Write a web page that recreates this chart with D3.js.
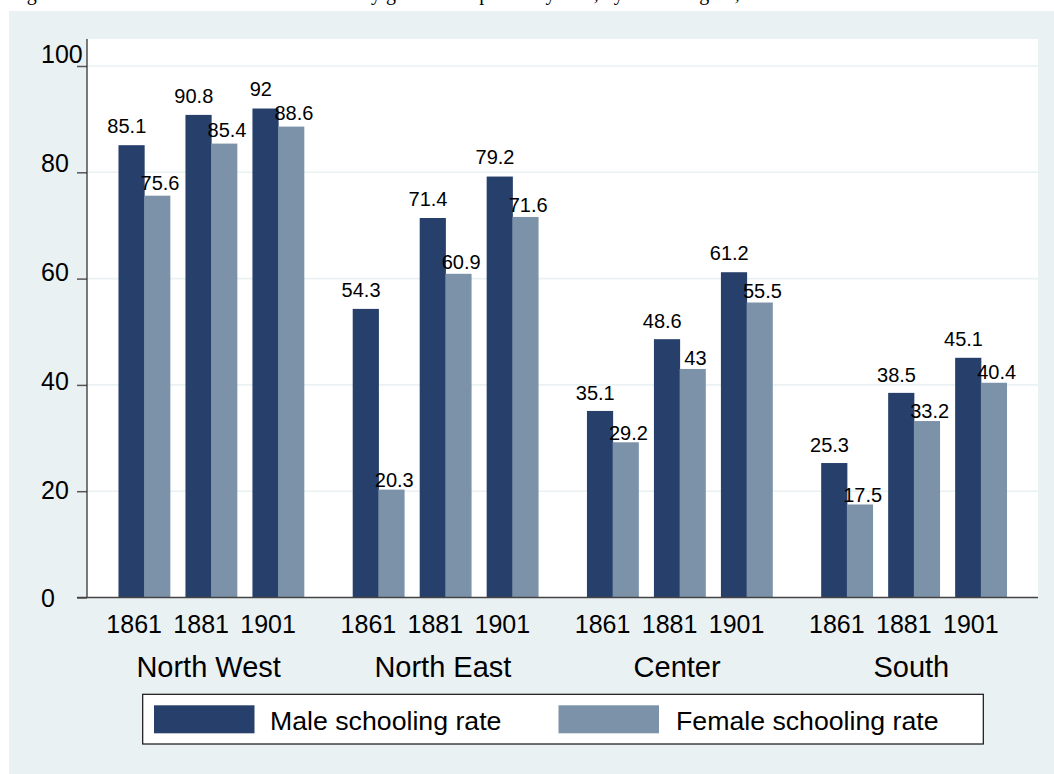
<!DOCTYPE html>
<html>
<head>
<meta charset="utf-8">
<script src="https://cdn.jsdelivr.net/npm/d3@7"></script>
<style>
  html, body { margin: 0; padding: 0; background: #ffffff; }
  svg { display: block; }
  text { font-family: Arial, "Liberation Sans", sans-serif; fill: #000; }
</style>
</head>
<body>
<svg id="chart" width="1054" height="774"></svg>
<script>
// ---- data ----
const titleText = "Figure 1. Enrolment rates in Italian schools by gender and period by area, by macro region, 1861\u20131901";
const regions = ["North West", "North East", "Center", "South"];
const years = ["1861", "1881", "1901"];
const maleNorthWest = [85.1, 90.8, 92];
const maleNorthEast = [54.3, 71.4, 79.2];
const maleCenter = [35.1, 48.6, 61.2];
const maleSouth = [25.3, 38.5, 45.1];
const femaleNorthWest = [75.6, 85.4, 88.6];
const femaleNorthEast = [20.3, 60.9, 71.6];
const femaleCenter = [29.2, 43, 55.5];
const femaleSouth = [17.5, 33.2, 40.4];
const yTicks = [0, 20, 40, 60, 80, 100];
const seriesNames = ["Male schooling rate", "Female schooling rate"];

// ---- build table ----
const maleByRegion = [maleNorthWest, maleNorthEast, maleCenter, maleSouth];
const femaleByRegion = [femaleNorthWest, femaleNorthEast, femaleCenter, femaleSouth];
const rows = [];
regions.forEach((r, i) => {
  years.forEach((y, j) => {
    rows.push({ region: r, year: y, series: 0, value: maleByRegion[i][j] });
    rows.push({ region: r, year: y, series: 1, value: femaleByRegion[i][j] });
  });
});

const colors = ["#273f6b", "#7b92a9"];
const bgColor = "#eaf1f3";

const svg = d3.select("#chart");

// outer background
svg.append("rect").attr("x", 9).attr("y", 11).attr("width", 1054 - 9).attr("height", 774 - 11)
  .attr("fill", bgColor);

// title, cropped at the top edge as in the reference (only descenders visible)
svg.append("text").attr("x", 10).attr("y", 0)
  .style("font-family", "'Liberation Serif', 'Times New Roman', serif")
  .style("font-size", "20px")
  .text(titleText);

const plotLeft = 87, plotRight = 1038, plotTop = 39;

const y = d3.scaleLinear().domain([0, 100]).range([597.5, 66]);

// plot region
svg.append("rect").attr("x", plotLeft).attr("y", plotTop)
  .attr("width", plotRight - plotLeft).attr("height", y(0) - plotTop)
  .attr("fill", "#ffffff");

const x0 = d3.scaleBand().domain(regions).range([plotLeft, plotRight])
  .paddingInner(0).paddingOuter(0.03);
const x1 = d3.scaleBand().domain(years).range([0, x0.bandwidth()])
  .paddingInner(0.233).paddingOuter(0.365);
const xs = d3.scaleBand().domain([0, 1]).range([0, x1.bandwidth()]);

// gridlines
svg.append("g").selectAll("line").data(yTicks.filter(t => t > 0)).join("line")
  .attr("x1", plotLeft).attr("x2", plotRight)
  .attr("y1", d => y(d)).attr("y2", d => y(d))
  .attr("stroke", bgColor).attr("stroke-width", 1.6);

// bars
const barX = d => x0(d.region) + x1(d.year) + xs(d.series);
svg.append("g").selectAll("rect").data(rows).join("rect")
  .attr("x", barX)
  .attr("y", d => y(d.value))
  .attr("width", xs.bandwidth() + 0.5)
  .attr("height", d => y(0) - y(d.value))
  .attr("fill", d => colors[d.series]);

// value labels
svg.append("g").selectAll("text").data(rows).join("text")
  .attr("x", d => barX(d) + xs.bandwidth() / 2 + (d.series === 0 ? -4.5 : 3))
  .attr("y", d => y(d.value) - (d.series === 0 ? 10.5 + 0.02 * d.value : 1 + 0.06 * d.value))
  .attr("text-anchor", "middle")
  .style("font-size", "20px")
  .text(d => d.value);

// y axis
const yAxis = d3.axisLeft(y).tickValues(yTicks).tickSize(10).tickFormat(d3.format("d"));
const gy = svg.append("g").attr("transform", `translate(${plotLeft},0)`).call(yAxis);
gy.select(".domain").remove();
gy.selectAll(".tick line").attr("stroke", "#555").attr("stroke-width", 1.5);
gy.selectAll(".tick text")
  .attr("x", 41 - plotLeft).attr("text-anchor", "start")
  .attr("dy", null)
  .attr("y", d => 9.4 - 0.13 * d)
  .style("font-size", "25px").style("font-family", "Arial, 'Liberation Sans', sans-serif")
  .attr("fill", "#000");
svg.append("line").attr("x1", plotLeft).attr("x2", plotLeft)
  .attr("y1", plotTop).attr("y2", y(0))
  .attr("stroke", "#333").attr("stroke-width", 1.3);
// baseline
svg.append("line").attr("x1", 77).attr("x2", plotRight)
  .attr("y1", y(0)).attr("y2", y(0))
  .attr("stroke", "#444").attr("stroke-width", 1.5);

// x axis: year labels and region labels
const yearLabels = [];
regions.forEach(r => years.forEach(yr => yearLabels.push({ region: r, year: yr })));
svg.append("g").selectAll("text").data(yearLabels).join("text")
  .attr("x", d => x0(d.region) + x1(d.year) + x1.bandwidth() / 2 - 10)
  .attr("y", 633)
  .attr("text-anchor", "middle")
  .style("font-size", "25px")
  .text(d => d.year);
svg.append("g").selectAll("text").data(regions).join("text")
  .attr("x", d => x0(d) + x0.bandwidth() / 2 - 2.5)
  .attr("y", 677)
  .attr("text-anchor", "middle")
  .style("font-size", "29px")
  .text(d => d);

// legend
const lg = svg.append("g");
lg.append("rect").attr("x", 142.7).attr("y", 694.3).attr("width", 983.3 - 142.7).attr("height", 744 - 694.3)
  .attr("fill", "#fff").attr("stroke", "#111").attr("stroke-width", 1.2);
const legendSwatchX = [154, 558.5];
const legendTextX = [270, 676];
seriesNames.forEach((name, i) => {
  lg.append("rect").attr("x", legendSwatchX[i]).attr("y", 705.3).attr("width", 100.5).attr("height", 28)
    .attr("fill", colors[i]);
  lg.append("text").attr("x", legendTextX[i]).attr("y", 730)
    .style("font-size", "26.7px")
    .text(name);
});
</script>
</body>
</html>
